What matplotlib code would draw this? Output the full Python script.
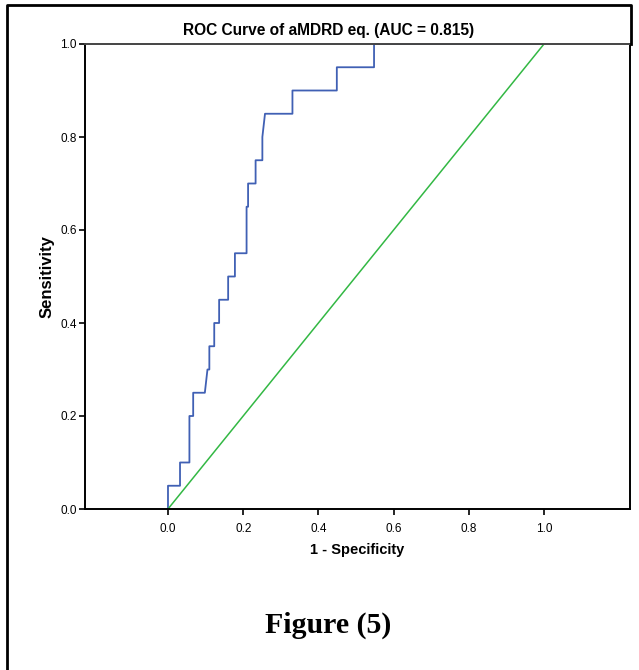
import matplotlib
matplotlib.use("Agg")
import matplotlib.pyplot as plt
from matplotlib.lines import Line2D

# ROC curve (step vertices)
fpr = [0, 0, 0.032, 0.032, 0.057, 0.057, 0.067, 0.067, 0.098, 0.105, 0.11, 0.11,
       0.123, 0.123, 0.136, 0.136, 0.160, 0.160, 0.178, 0.178, 0.209, 0.209,
       0.213, 0.213, 0.233, 0.233, 0.251, 0.251, 0.258, 0.331, 0.331, 0.449,
       0.449, 0.548, 0.548, 1.0]
tpr = [0, 0.05, 0.05, 0.10, 0.10, 0.20, 0.20, 0.25, 0.25, 0.30, 0.30, 0.35,
       0.35, 0.40, 0.40, 0.45, 0.45, 0.50, 0.50, 0.55, 0.55, 0.65,
       0.65, 0.70, 0.70, 0.75, 0.75, 0.80, 0.85, 0.85, 0.90, 0.90,
       0.95, 0.95, 1.0, 1.0]
ref_x = [0, 1]
ref_y = [0, 1]
ticks = [0.0, 0.2, 0.4, 0.6, 0.8, 1.0]

sans = ['Liberation Sans', 'DejaVu Sans']
serif = ['Liberation Serif', 'DejaVu Serif']

W, H = 639, 670
fig = plt.figure(figsize=(W / 100, H / 100), dpi=100)
ax = fig.add_axes([85 / W, 1 - 509 / H, (630 - 85) / W, (509 - 44) / H])

ax.plot(fpr, tpr, color='#4060b4', lw=1.3)
ax.plot(ref_x, ref_y, color='#33b844', lw=1.1)

ax.set_xlim(-0.2207, 1.2287)
ax.set_ylim(0, 1)
ax.set_xticks(ticks)
ax.set_yticks(ticks)
ax.set_xticklabels(['%.1f' % t for t in ticks], family=sans, fontsize=8.5)
ax.set_yticklabels(['%.1f' % t for t in ticks], family=sans, fontsize=8.5)
ax.tick_params(length=4, width=1.2, colors='black')
ax.tick_params(axis='x', pad=6)
ax.tick_params(axis='y', pad=2)
for s in ax.spines.values():
    s.set_linewidth(1.4)
ax.spines['top'].set_color('#444444')

# title is centred on the page rather than on the axes
fig.text(329 / W, 1 - 31 / H, 'ROC Curve of aMDRD eq. (AUC = 0.815)',
         family=sans, fontsize=11.2, fontweight='bold',
         ha='center', va='center')
ax.set_xlabel('1 - Specificity', family=sans, fontsize=10.5,
              fontweight='bold', labelpad=6)
ax.set_ylabel('Sensitivity', family=sans, fontsize=12,
              fontweight='bold', labelpad=4)

fig.text(328 / W, 1 - 625 / H, 'Figure (5)', family=serif, fontsize=21.5,
         fontweight='bold', ha='center', va='center')

# outer frame (left and top edges)
fig.add_artist(Line2D([7 / W, 7 / W, 631 / W, 631 / W],
                      [0, 1 - 5 / H, 1 - 5 / H, 1 - 44 / H],
                      transform=fig.transFigure, color='black', lw=2))

fig.savefig('out.png', dpi=100)
